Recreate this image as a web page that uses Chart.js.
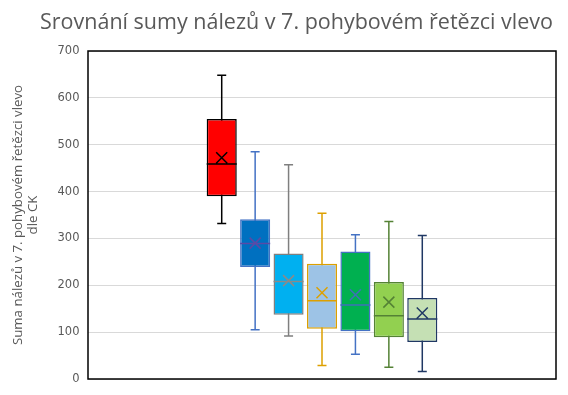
<!DOCTYPE html>
<html lang="cs">
<head>
<meta charset="utf-8">
<title>Srovnání sumy nálezů</title>
<script src="https://cdn.jsdelivr.net/npm/chart.js@4.4.1/dist/chart.umd.min.js"></script>
<style>
  html, body { margin: 0; padding: 0; background: #fff; }
  #wrap { width: 568px; height: 395px; }
</style>
</head>
<body>
<div id="wrap"><canvas id="chart" width="568" height="395"></canvas></div>
<script>
// ── Data ──────────────────────────────────────────────────────────────────────
const CATEGORIES = [""];
const SERIES     = ["Skupina 1", "Skupina 2", "Skupina 3", "Skupina 4", "Skupina 5", "Skupina 6", "Skupina 7"];
const MINS       = [332, 105,  92,  29,  53,  25,  16];
const Q1S        = [390, 239, 137, 107, 102,  89,  79];
const MEDIANS    = [459, 289, 208, 167, 158, 135, 128];
const Q3S        = [555, 341, 268, 246, 272, 207, 173];
const MAXS       = [648, 485, 457, 354, 308, 336, 306];
const MEANS      = [472, 290, 210, 184, 180, 164, 141];
const Y_TICKS    = [0, 100, 200, 300, 400, 500, 600, 700];

// ── Styles ────────────────────────────────────────────────────────────────────
const FILLS   = ["#FF0000", "#0070C0", "#00B0F0", "#9DC3E6", "#00B050", "#92D050", "#C5E0B4"];
const LINES   = ["#000000", "#4472C4", "#7F7F7F", "#DDA000", "#4472C4", "#548235", "#203864"];
const MARKS   = ["#000000", "#5A4AA6", "#8A8A8A", "#DDA000", "#3F6FB8", "#548235", "#203864"];
const TEXT    = "#595959";

// ── Whiskers, frame (under boxes) and median / mean (over boxes) ──────────────
const boxPlotPlugin = {
  id: "boxPlot",
  beforeDatasetsDraw(chart) {
    const { ctx, chartArea: a, scales: { y } } = chart;
    ctx.save();
    ctx.strokeStyle = "#000";
    ctx.lineWidth = 1.5;
    ctx.strokeRect(a.left, a.top, a.right - a.left, a.bottom - a.top);

    SERIES.forEach((_, i) => {
      const bar = chart.getDatasetMeta(i).data[0];
      if (!bar) return;
      const { x } = bar.getProps(["x"], true);
      const yMin = y.getPixelForValue(MINS[i]);
      const yMax = y.getPixelForValue(MAXS[i]);
      ctx.strokeStyle = LINES[i];
      ctx.lineWidth = 1.5;
      ctx.beginPath();
      ctx.moveTo(x, yMin); ctx.lineTo(x, yMax);
      ctx.moveTo(x - 4.5, yMin); ctx.lineTo(x + 4.5, yMin);
      ctx.moveTo(x - 4.5, yMax); ctx.lineTo(x + 4.5, yMax);
      ctx.stroke();
    });
    ctx.restore();
  },
  afterDatasetsDraw(chart) {
    const { ctx, scales: { y } } = chart;
    ctx.save();
    SERIES.forEach((_, i) => {
      const bar = chart.getDatasetMeta(i).data[0];
      if (!bar) return;
      const { x, width } = bar.getProps(["x", "width"], true);
      const yMed  = y.getPixelForValue(MEDIANS[i]);
      const yMean = y.getPixelForValue(MEANS[i]);
      const r = 5.5;
      ctx.strokeStyle = MARKS[i];
      ctx.lineWidth = 1.5;
      ctx.beginPath();
      ctx.moveTo(x - width / 2, yMed); ctx.lineTo(x + width / 2, yMed);
      ctx.moveTo(x - r, yMean - r); ctx.lineTo(x + r, yMean + r);
      ctx.moveTo(x + r, yMean - r); ctx.lineTo(x - r, yMean + r);
      ctx.stroke();
    });
    ctx.restore();
  },
};

// ── Chart ─────────────────────────────────────────────────────────────────────
new Chart(document.getElementById("chart"), {
  type: "bar",
  data: {
    labels: CATEGORIES,
    datasets: SERIES.map((name, i) => ({
      label: name,
      data: [[Q1S[i], Q3S[i]]],
      backgroundColor: FILLS[i],
      borderColor: LINES[i],
      borderWidth: 1.5,
      borderSkipped: false,
      categoryPercentage: 0.5,
      barPercentage: 0.9,
    })),
  },
  options: {
    responsive: false,
    animation: false,
    layout: { padding: { left: 37, right: 12, top: 0, bottom: 16 } },
    plugins: {
      legend: { display: false },
      tooltip: { enabled: false },
      title: {
        display: true,
        text: "Srovnání sumy nálezů v 7. pohybovém řetězci vlevo",
        color: TEXT,
        font: { family: "Open Sans", size: 21.5, weight: "normal", lineHeight: 1.2 },
        padding: { top: 10, bottom: 15.2 },
      },
    },
    scales: {
      x: { display: false },
      y: {
        min: 0,
        max: 700,
        afterBuildTicks: (scale) => { scale.ticks = Y_TICKS.map((v) => ({ value: v })); },
        afterFit: (scale) => { scale.width = 51; },
        border: { display: false },
        grid: { color: "#D9D9D9", lineWidth: 1, drawTicks: false },
        ticks: {
          color: TEXT,
          padding: 8.5,
          font: { family: "DejaVu Sans", size: 11.5 },
        },
        title: {
          display: true,
          text: ["Suma nálezů v 7. pohybovém řetězci vlevo", "dle CK"],
          color: TEXT,
          font: { family: "Open Sans", size: 13.25, lineHeight: 1.13 },
          padding: { top: -26.5, bottom: 0 },
        },
      },
    },
  },
  plugins: [boxPlotPlugin],
});
</script>
</body>
</html>
